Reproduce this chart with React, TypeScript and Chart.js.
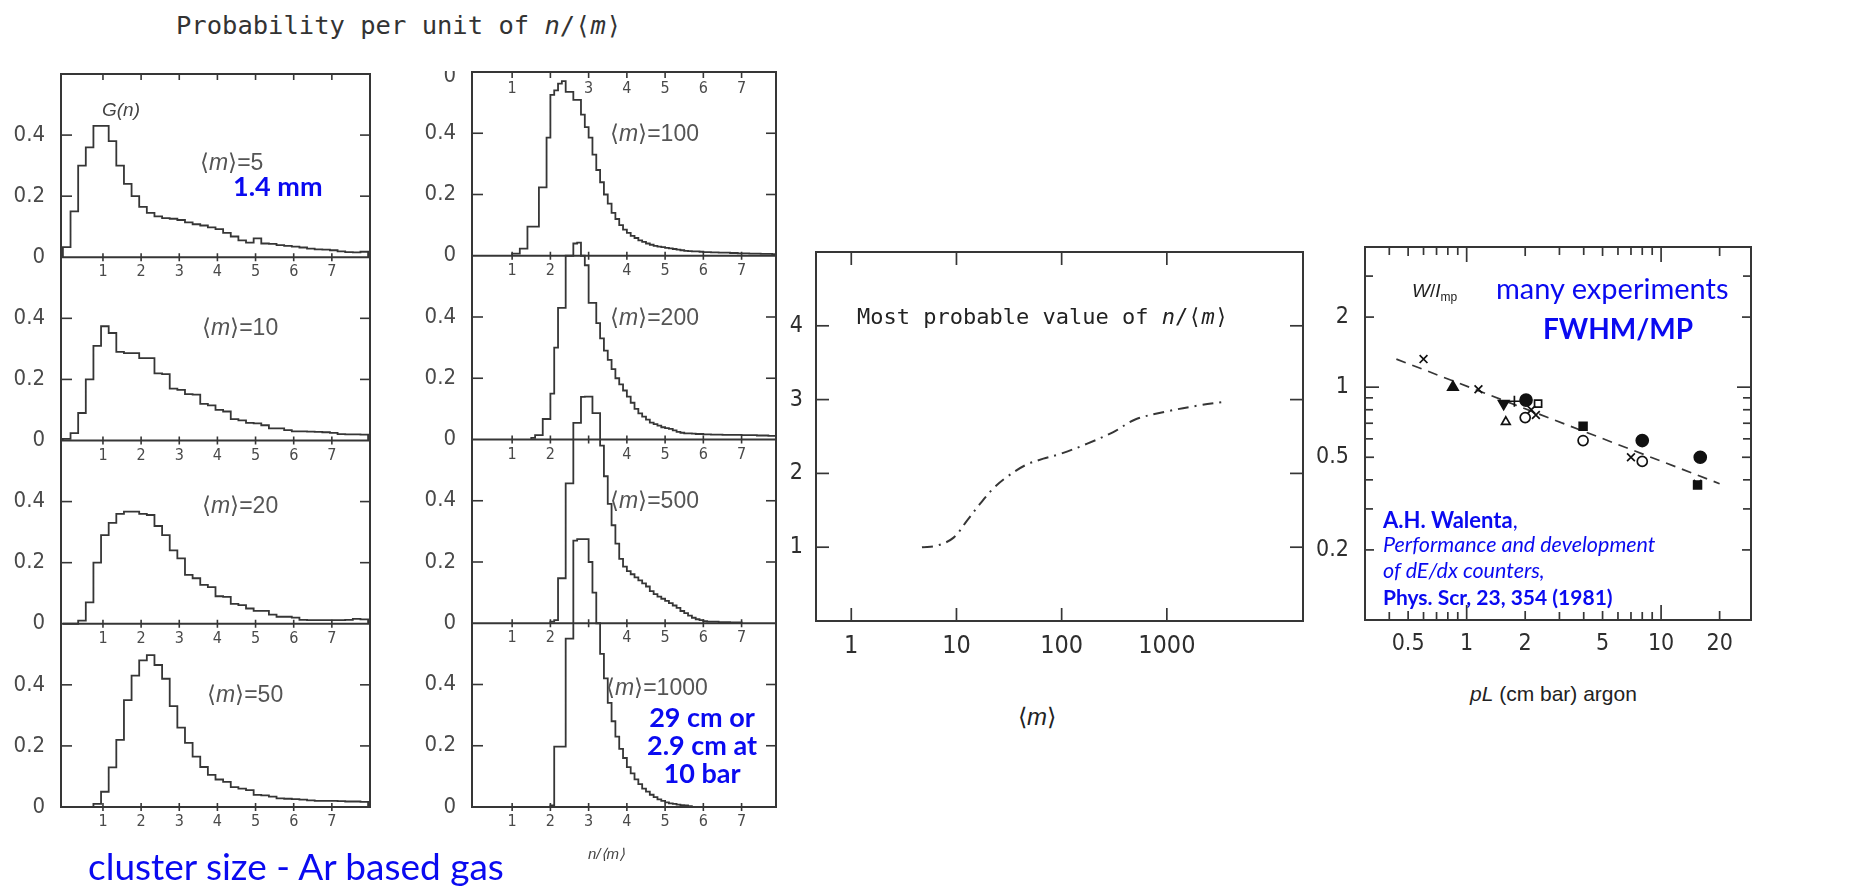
import React, { useEffect, useRef } from "react";
import { Chart, registerables } from "chart.js";

Chart.register(...registerables);

const INK = "#363636";
const TXT = "#4a4a4a";
const BLUE = "#0a0af0";
const NARROW = '"Liberation Sans Narrow", "DejaVu Sans Condensed", sans-serif';
const SANS = '"Liberation Sans", Arial, sans-serif';
const MONO = '"DejaVu Sans Mono", monospace';
const CAL = 'Lato, "Open Sans", sans-serif';

// ---------------- data: cluster-size histograms (probability per unit of n/<m>) ----------------
const LEFT_START = -0.05;
const LEFT_BIN = 0.2;
const histM5 = [0.033, 0.15, 0.30, 0.36, 0.43, 0.43, 0.38, 0.30, 0.24, 0.20,
  0.165, 0.145, 0.134, 0.128, 0.126, 0.122, 0.114, 0.108, 0.104, 0.098,
  0.092, 0.08, 0.068, 0.055, 0.048, 0.062, 0.045, 0.044, 0.04, 0.037,
  0.035, 0.032, 0.028, 0.026, 0.025, 0.023, 0.019, 0.017, 0.016, 0.018];
const histM10 = [0.005, 0.024, 0.09, 0.2, 0.31, 0.374, 0.352, 0.29, 0.286, 0.286,
  0.27, 0.27, 0.22, 0.217, 0.17, 0.166, 0.152, 0.15, 0.12, 0.115,
  0.10, 0.095, 0.07, 0.066, 0.058, 0.056, 0.05, 0.04, 0.04, 0.034,
  0.03, 0.03, 0.029, 0.028, 0.027, 0.025, 0.021, 0.02, 0.02, 0.019];
const histM20 = [0, 0, 0.01, 0.07, 0.2, 0.29, 0.33, 0.36, 0.367, 0.367,
  0.36, 0.356, 0.32, 0.29, 0.24, 0.214, 0.16, 0.149, 0.127, 0.12,
  0.09, 0.088, 0.065, 0.061, 0.05, 0.042, 0.042, 0.03, 0.023, 0.023,
  0.02, 0.013, 0.012, 0.012, 0.012, 0.012, 0.012, 0.013, 0.016, 0.014];
const histM50 = [0, 0, 0, 0, 0.01, 0.05, 0.13, 0.22, 0.35, 0.43,
  0.48, 0.497, 0.465, 0.42, 0.33, 0.26, 0.21, 0.165, 0.131, 0.105,
  0.09, 0.082, 0.065, 0.06, 0.055, 0.04, 0.038, 0.034, 0.028, 0.027,
  0.026, 0.024, 0.022, 0.02, 0.02, 0.02, 0.019, 0.018, 0.018, 0.017];

const RIGHT_BIN = 0.1;
const startM100 = 1.0;
const histM100 = [0.007, 0.007, 0.023, 0.023, 0.095, 0.095, 0.095, 0.223, 0.223, 0.386,
  0.525, 0.54, 0.562, 0.57, 0.535, 0.535, 0.509, 0.509, 0.461, 0.42,
  0.386, 0.33, 0.28, 0.24, 0.2, 0.17, 0.14, 0.12, 0.1, 0.085,
  0.075, 0.065, 0.058, 0.05, 0.045, 0.04, 0.036, 0.032, 0.03, 0.028,
  0.026, 0.024, 0.022, 0.02, 0.018, 0.016, 0.015, 0.014, 0.014, 0.013,
  0.012, 0.012, 0.011, 0.011, 0.01, 0.01, 0.01, 0.009, 0.009, 0.008,
  0.008, 0.008, 0.007, 0.007, 0.007, 0.006, 0.006, 0.006, 0.005];
const startM200 = 1.5;
const histM200 = [0.005, 0.014, 0.014, 0.067, 0.067, 0.15, 0.3, 0.43, 0.43, 0.6,
  0.6, 0.64, 0.643, 0.6, 0.569, 0.446, 0.446, 0.38, 0.33, 0.29,
  0.26, 0.23, 0.2, 0.18, 0.16, 0.14, 0.12, 0.1, 0.085, 0.075,
  0.065, 0.055, 0.05, 0.045, 0.04, 0.037, 0.035, 0.03, 0.025, 0.022,
  0.02, 0.02, 0.019, 0.018, 0.018, 0.017, 0.017, 0.016, 0.016, 0.016,
  0.015, 0.015, 0.015, 0.015, 0.015, 0.014, 0.014, 0.014, 0.014, 0.013,
  0.013, 0.013, 0.012, 0.012];
const startM500 = 2.0;
const histM500 = [0.005, 0.01, 0.147, 0.147, 0.457, 0.457, 0.654, 0.654, 0.739, 0.74,
  0.74, 0.686, 0.686, 0.58, 0.48, 0.39, 0.32, 0.26, 0.21, 0.185,
  0.17, 0.16, 0.15, 0.14, 0.13, 0.12, 0.105, 0.095, 0.087, 0.08,
  0.073, 0.066, 0.058, 0.05, 0.04, 0.033, 0.025, 0.018, 0.013, 0.01,
  0.007, 0.005, 0.005, 0.005, 0.004, 0.004, 0.004, 0.003, 0.003, 0.003];
const startM1000 = 2.0;
const histM1000 = [0.005, 0.197, 0.197, 0.197, 0.55, 0.55, 0.87, 0.875, 0.875, 0.875,
  0.8, 0.7, 0.6, 0.5, 0.42, 0.34, 0.28, 0.23, 0.19, 0.16,
  0.13, 0.11, 0.09, 0.075, 0.06, 0.05, 0.04, 0.032, 0.025, 0.02,
  0.015, 0.012, 0.01, 0.008, 0.006, 0.005, 0.003];

const HIST_Y_TICKS = [0.2, 0.4];
const HIST_Y_LABELS = [0, 0.2, 0.4];
const HIST_X_TICKS = [1, 2, 3, 4, 5, 6, 7];
const LEFT_ZERO_LABELS = [1, 2, 3, 4, 5, 6, 7];
const RIGHT_ZERO_LABELS = [1, 2, 4, 5, 6, 7];
const RIGHT_TOP_LABELS = [1, 3, 4, 5, 6, 7];

// ---------------- data: most probable value vs <m> ----------------
const mostProbM = [4.7, 6.5, 9.4, 12.6, 16.8, 22.5, 30, 45, 67, 100, 173, 310, 500, 1000, 2000, 3500];
const mostProbValue = [1.0, 1.02, 1.13, 1.36, 1.59, 1.80, 1.95, 2.11, 2.20, 2.27, 2.40, 2.56, 2.73, 2.84, 2.92, 2.97];
const MID_X_TICKS = [1, 10, 100, 1000];
const MID_Y_TICKS = [1, 2, 3, 4];

// ---------------- data: W/I_mp vs pL ----------------
const crossPts = [[0.6, 1.32], [1.15, 0.98], [2.27, 0.76], [2.15, 0.8], [7.0, 0.5], [15.4, 0.385]];
const plusPts = [[1.76, 0.87]];
const triUpFilledPts = [[0.85, 1.0]];
const triDownFilledPts = [[1.55, 0.85]];
const triUpOpenPts = [[1.59, 0.71]];
const dotFilledPts = [[2.02, 0.88], [8.0, 0.59], [15.9, 0.5]];
const dotOpenPts = [[2.0, 0.74], [3.97, 0.59], [8.0, 0.48]];
const squareOpenPts = [[2.33, 0.85]];
const squareFilledPts = [[3.97, 0.68], [15.4, 0.38]];
const fitPts = [[0.435, 1.32], [20, 0.385]];
const RIGHT_X_LABELS = [0.5, 1, 2, 5, 10, 20];
const RIGHT_X_MINOR = [0.4, 0.6, 0.7, 0.8, 0.9, 3, 4, 6, 7, 8, 9];
const RIGHT_Y_LABELS = [0.2, 0.5, 1, 2];
const RIGHT_Y_MINOR = [0.3, 0.4, 0.6, 0.7, 0.8, 0.9, 3];

// ---------------- helpers ----------------
const PANEL_RANGE = 0.6;

function histPoints(start: number, bin: number, vals: number[]) {
  const pts = [{ x: start, y: 0 }];
  vals.forEach((v, i) => pts.push({ x: start + i * bin, y: v }));
  pts.push({ x: start + vals.length * bin, y: 0 });
  return pts;
}

function seg(ctx: any, x1: number, y1: number, x2: number, y2: number) {
  ctx.beginPath();
  ctx.moveTo(x1, y1);
  ctx.lineTo(x2, y2);
  ctx.stroke();
}

type Frame = { l: number; t: number; w: number; h: number };
type Pad = { l: number; t: number; r: number; b: number };

function ChartCanvas({ frame, pad, make }: { frame: Frame; pad: Pad; make: (padding: any) => any }) {
  const ref = useRef<HTMLCanvasElement>(null);
  useEffect(() => {
    const chart = new Chart(ref.current as HTMLCanvasElement, make({ left: pad.l, top: pad.t, right: pad.r, bottom: pad.b }));
    return () => chart.destroy();
  }, []);
  const w = frame.w + pad.l + pad.r;
  const h = frame.h + pad.t + pad.b;
  return (
    <canvas
      ref={ref}
      width={w}
      height={h}
      style={{ position: "absolute", left: frame.l - pad.l, top: frame.t - pad.t, width: w, height: h }}
    />
  );
}

type Panel = { start: number; bin: number; values: number[]; zeroLabels: number[] };

function histConfig(panels: Panel[], xMin: number, xMax: number, topLabels: number[], cornerZero: boolean) {
  return (padding: any) => {
    const n = panels.length;
    const scales: any = { x: { type: "linear", min: xMin, max: xMax, display: false } };
    panels.forEach((_, k) => {
      scales["y" + k] = { type: "linear", display: false, min: -PANEL_RANGE * (n - 1 - k), max: PANEL_RANGE * (k + 1) };
    });
    const decor = {
      id: "histDecor",
      afterDatasetsDraw(chart: any) {
        const { ctx, chartArea: a, scales: s } = chart;
        const xs = s.x;
        ctx.save();
        ctx.strokeStyle = INK;
        ctx.lineWidth = 2;
        ctx.strokeRect(a.left, a.top, a.right - a.left, a.bottom - a.top);
        ctx.lineWidth = 1.6;
        HIST_X_TICKS.forEach((v) => {
          const x = xs.getPixelForValue(v);
          seg(ctx, x, a.top, x, a.top + 6);
        });
        ctx.fillStyle = TXT;
        ctx.textAlign = "center";
        ctx.textBaseline = "middle";
        ctx.font = `16px ${NARROW}`;
        topLabels.forEach((v) => ctx.fillText(String(v), xs.getPixelForValue(v), a.top + 17));
        panels.forEach((p, k) => {
          const ys = s["y" + k];
          const y0 = ys.getPixelForValue(0);
          ctx.lineWidth = 2;
          seg(ctx, a.left, y0, a.right, y0);
          ctx.lineWidth = 1.6;
          HIST_Y_TICKS.forEach((v) => {
            const y = ys.getPixelForValue(v);
            seg(ctx, a.left, y, a.left + 11, y);
            seg(ctx, a.right - 10, y, a.right, y);
          });
          HIST_X_TICKS.forEach((v) => {
            const x = xs.getPixelForValue(v);
            seg(ctx, x, y0 - 4, x, y0 + 4);
          });
          ctx.textAlign = "center";
          ctx.font = `16px ${NARROW}`;
          p.zeroLabels.forEach((v) => ctx.fillText(String(v), xs.getPixelForValue(v), y0 + 15));
          ctx.textAlign = "right";
          ctx.font = `22px ${NARROW}`;
          HIST_Y_LABELS.forEach((v) => ctx.fillText(String(v), a.left - 16, ys.getPixelForValue(v)));
        });
        if (cornerZero) {
          ctx.save();
          ctx.beginPath();
          ctx.rect(a.left - 40, a.top - 1, 40, 30);
          ctx.clip();
          ctx.textAlign = "right";
          ctx.font = `22px ${NARROW}`;
          ctx.fillText("0", a.left - 16, a.top + 4);
          ctx.restore();
        }
        ctx.restore();
      },
    };
    return {
      type: "line",
      data: {
        datasets: panels.map((p, k) => ({
          data: histPoints(p.start, p.bin, p.values),
          yAxisID: "y" + k,
          stepped: "before",
          borderColor: INK,
          borderWidth: 1.8,
          pointRadius: 0,
          fill: false,
          clip: false,
        })),
      },
      options: {
        animation: false,
        responsive: false,
        devicePixelRatio: 1,
        layout: { padding },
        plugins: { legend: { display: false }, tooltip: { enabled: false } },
        scales,
      },
      plugins: [decor],
    };
  };
}

type Tick = { v: number; len: number };
type Lab = { v: number; text: string };
function boxDecor(o: { xTicks: Tick[]; yTicks: Tick[]; xLabels: Lab[]; yLabels: Lab[]; xFont: string; yFont: string; xDy: number; yDx: number }) {
  return {
    id: "boxDecor",
    afterDatasetsDraw(chart: any) {
      const { ctx, chartArea: a, scales } = chart;
      const xs = scales.x;
      const ys = scales.y;
      ctx.save();
      ctx.strokeStyle = INK;
      ctx.lineWidth = 2;
      ctx.strokeRect(a.left, a.top, a.right - a.left, a.bottom - a.top);
      ctx.lineWidth = 1.7;
      o.xTicks.forEach((t) => {
        const x = xs.getPixelForValue(t.v);
        seg(ctx, x, a.top, x, a.top + t.len);
        seg(ctx, x, a.bottom, x, a.bottom - t.len);
      });
      o.yTicks.forEach((t) => {
        const y = ys.getPixelForValue(t.v);
        seg(ctx, a.left, y, a.left + t.len, y);
        seg(ctx, a.right, y, a.right - t.len, y);
      });
      ctx.fillStyle = "#2e2e2e";
      ctx.textBaseline = "middle";
      ctx.textAlign = "center";
      ctx.font = o.xFont;
      o.xLabels.forEach((l) => ctx.fillText(l.text, xs.getPixelForValue(l.v), a.bottom + o.xDy));
      ctx.textAlign = "right";
      ctx.font = o.yFont;
      o.yLabels.forEach((l) => ctx.fillText(l.text, a.left - o.yDx, ys.getPixelForValue(l.v)));
      ctx.restore();
    },
  };
}

const baseOptions = (padding: any) => ({
  animation: false,
  responsive: false,
  devicePixelRatio: 1,
  layout: { padding },
  plugins: { legend: { display: false }, tooltip: { enabled: false } },
});

function middleConfig(padding: any) {
  return {
    type: "line",
    data: {
      datasets: [
        {
          data: mostProbM.map((m, i) => ({ x: m, y: mostProbValue[i] })),
          borderColor: INK,
          borderWidth: 2,
          borderDash: [11, 6, 2, 6],
          pointRadius: 0,
          tension: 0.35,
          fill: false,
        },
      ],
    },
    options: {
      ...baseOptions(padding),
      scales: {
        x: { type: "logarithmic", min: 0.462, max: 19700, display: false },
        y: { type: "linear", min: 0, max: 5, display: false },
      },
    },
    plugins: [
      boxDecor({
        xTicks: MID_X_TICKS.map((v) => ({ v, len: 13 })),
        yTicks: MID_Y_TICKS.map((v) => ({ v, len: 13 })),
        xLabels: MID_X_TICKS.map((v) => ({ v, text: String(v) })),
        yLabels: MID_Y_TICKS.map((v) => ({ v, text: String(v) })),
        xFont: `25px ${NARROW}`,
        yFont: `23px ${NARROW}`,
        xDy: 25,
        yDx: 13,
      }),
    ],
  };
}

const toXY = (arr: number[][]) => arr.map(([x, y]) => ({ x, y }));

function rightConfig(padding: any) {
  const mk = (pts: number[][], style: string, fill: string, r: number, rot = 0) => ({
    type: "scatter",
    data: toXY(pts),
    pointStyle: style,
    pointRadius: r,
    pointRotation: rot,
    backgroundColor: fill,
    borderColor: "#111",
    borderWidth: 1.7,
  });
  return {
    type: "scatter",
    data: {
      datasets: [
        mk(crossPts, "crossRot", "#111", 5.5),
        mk(plusPts, "cross", "#111", 5.5),
        mk(triUpFilledPts, "triangle", "#111", 6),
        mk(triDownFilledPts, "triangle", "#111", 6, 180),
        mk(triUpOpenPts, "triangle", "#fff", 5),
        mk(dotFilledPts, "circle", "#111", 6),
        mk(dotOpenPts, "circle", "#fff", 5),
        mk(squareOpenPts, "rect", "#fff", 5),
        mk(squareFilledPts, "rect", "#111", 5.5),
        {
          type: "line",
          data: toXY(fitPts),
          showLine: true,
          borderColor: INK,
          borderWidth: 1.7,
          borderDash: [10, 7],
          pointRadius: 0,
          fill: false,
        },
      ],
    },
    options: {
      ...baseOptions(padding),
      scales: {
        x: { type: "logarithmic", min: 0.316, max: 29, display: false },
        y: { type: "logarithmic", min: 0.1, max: 4, display: false },
      },
    },
    plugins: [
      boxDecor({
        xTicks: [
          ...RIGHT_X_LABELS.map((v) => ({ v, len: v === 1 || v === 10 ? 15 : 9 })),
          ...RIGHT_X_MINOR.map((v) => ({ v, len: 8 })),
        ],
        yTicks: [
          ...RIGHT_Y_LABELS.map((v) => ({ v, len: v === 1 ? 14 : 9 })),
          ...RIGHT_Y_MINOR.map((v) => ({ v, len: 8 })),
        ],
        xLabels: RIGHT_X_LABELS.map((v) => ({ v, text: String(v) })),
        yLabels: RIGHT_Y_LABELS.map((v) => ({ v, text: String(v) })),
        xFont: `23px ${NARROW}`,
        yFont: `23px ${NARROW}`,
        xDy: 24,
        yDx: 16,
      }),
    ],
  };
}

function T({ x, y, children, style, center }: any) {
  return (
    <div
      style={{
        position: "absolute",
        left: x,
        top: y,
        transform: center ? "translate(-50%, -50%)" : "translateY(-50%)",
        whiteSpace: "nowrap",
        lineHeight: 1,
        ...style,
      }}
    >
      {children}
    </div>
  );
}

const LEFT_FRAME: Frame = { l: 61, t: 74, w: 309, h: 733 };
const RIGHT_FRAME: Frame = { l: 472, t: 72, w: 304, h: 735 };
const MID_FRAME: Frame = { l: 816, t: 252, w: 487, h: 369 };
const RGT_FRAME: Frame = { l: 1365, t: 247, w: 386, h: 373 };

const leftPanels: Panel[] = [
  { start: LEFT_START, bin: LEFT_BIN, values: histM5, zeroLabels: LEFT_ZERO_LABELS },
  { start: LEFT_START, bin: LEFT_BIN, values: histM10, zeroLabels: LEFT_ZERO_LABELS },
  { start: LEFT_START, bin: LEFT_BIN, values: histM20, zeroLabels: LEFT_ZERO_LABELS },
  { start: LEFT_START, bin: LEFT_BIN, values: histM50, zeroLabels: LEFT_ZERO_LABELS },
];
const rightPanels: Panel[] = [
  { start: startM100, bin: RIGHT_BIN, values: histM100, zeroLabels: RIGHT_ZERO_LABELS },
  { start: startM200, bin: RIGHT_BIN, values: histM200, zeroLabels: RIGHT_ZERO_LABELS },
  { start: startM500, bin: RIGHT_BIN, values: histM500, zeroLabels: RIGHT_ZERO_LABELS },
  { start: startM1000, bin: RIGHT_BIN, values: histM1000, zeroLabels: HIST_X_TICKS },
];

const mLab = (val: string) => (
  <span>
    ⟨<i>m</i>⟩={val}
  </span>
);

export default function App() {
  const annot = { fontFamily: SANS, fontSize: 23, color: "#555" };
  const blueBold = { fontFamily: CAL, fontWeight: 700, fontSize: 27, color: BLUE };
  return (
    <div
      style={{
        position: "absolute",
        left: 0,
        top: 0,
        width: 1863,
        height: 890,
        background: "#fff",
        overflow: "hidden",
        fontFamily: SANS,
      }}
    >
      <ChartCanvas frame={LEFT_FRAME} pad={{ l: 60, t: 20, r: 6, b: 36 }} make={histConfig(leftPanels, -0.1, 8.0, [], false)} />
      <ChartCanvas frame={RIGHT_FRAME} pad={{ l: 60, t: 20, r: 6, b: 36 }} make={histConfig(rightPanels, -0.05, 7.9, RIGHT_TOP_LABELS, true)} />
      <ChartCanvas frame={MID_FRAME} pad={{ l: 45, t: 10, r: 10, b: 45 }} make={middleConfig} />
      <ChartCanvas frame={RGT_FRAME} pad={{ l: 55, t: 10, r: 10, b: 45 }} make={rightConfig} />

      <T x={176} y={26} style={{ fontFamily: MONO, fontSize: 25.5, color: "#333" }}>
        Probability per unit of <i>n</i>/⟨<i>m</i>⟩
      </T>
      <T x={102} y={109} style={{ fontFamily: SANS, fontStyle: "italic", fontSize: 19, color: "#444" }}>
        G(n)
      </T>
      <T x={200} y={162} style={annot}>{mLab("5")}</T>
      <T x={202} y={327} style={annot}>{mLab("10")}</T>
      <T x={202} y={505} style={annot}>{mLab("20")}</T>
      <T x={207} y={694} style={annot}>{mLab("50")}</T>
      <T x={610} y={133} style={annot}>{mLab("100")}</T>
      <T x={610} y={317} style={annot}>{mLab("200")}</T>
      <T x={610} y={500} style={annot}>{mLab("500")}</T>
      <T x={606} y={687} style={annot}>{mLab("1000")}</T>

      <T x={233} y={185} style={blueBold}>1.4 mm</T>
      <T x={702} y={716} center style={blueBold}>29 cm or</T>
      <T x={702} y={744} center style={blueBold}>2.9 cm at</T>
      <T x={702} y={772} center style={blueBold}>10 bar</T>

      <T x={88} y={865} style={{ fontFamily: CAL, fontSize: 37, color: BLUE }}>
        cluster size - Ar based gas
      </T>
      <T x={588} y={853} style={{ fontFamily: SANS, fontStyle: "italic", fontSize: 15, color: "#444" }}>
        n/⟨m⟩
      </T>

      <T x={857} y={317} style={{ fontFamily: MONO, fontSize: 22, color: "#222" }}>
        Most probable value of <i>n</i>/⟨<i>m</i>⟩
      </T>
      <T x={1018} y={717} style={{ fontFamily: SANS, fontSize: 24, color: "#222" }}>
        ⟨<i>m</i>⟩
      </T>

      <T x={1412} y={292} style={{ fontFamily: SANS, fontSize: 19, color: "#222" }}>
        <i>W</i>/<i>I</i>
        <sub style={{ fontSize: 12 }}>mp</sub>
      </T>
      <T x={1496} y={287} style={{ fontFamily: CAL, fontSize: 29, color: BLUE }}>
        many experiments
      </T>
      <T x={1543} y={328} style={{ fontFamily: CAL, fontWeight: 700, fontSize: 28, color: BLUE }}>
        FWHM/MP
      </T>
      <T x={1383} y={520} style={{ fontFamily: CAL, fontSize: 22, color: BLUE }}>
        <b>A.H. Walenta</b>,
      </T>
      <T x={1383} y={545} style={{ fontFamily: CAL, fontStyle: "italic", fontSize: 21.5, color: BLUE }}>
        Performance and development
      </T>
      <T x={1383} y={571} style={{ fontFamily: CAL, fontStyle: "italic", fontSize: 21.5, color: BLUE }}>
        of dE/dx counters,
      </T>
      <T x={1383} y={596} style={{ fontFamily: CAL, fontWeight: 700, fontSize: 21, color: BLUE }}>
        Phys. Scr, 23, 354 (1981)
      </T>
      <T x={1470} y={693} style={{ fontFamily: SANS, fontSize: 21, color: "#222" }}>
        <i>pL</i> (cm bar) argon
      </T>
    </div>
  );
}
